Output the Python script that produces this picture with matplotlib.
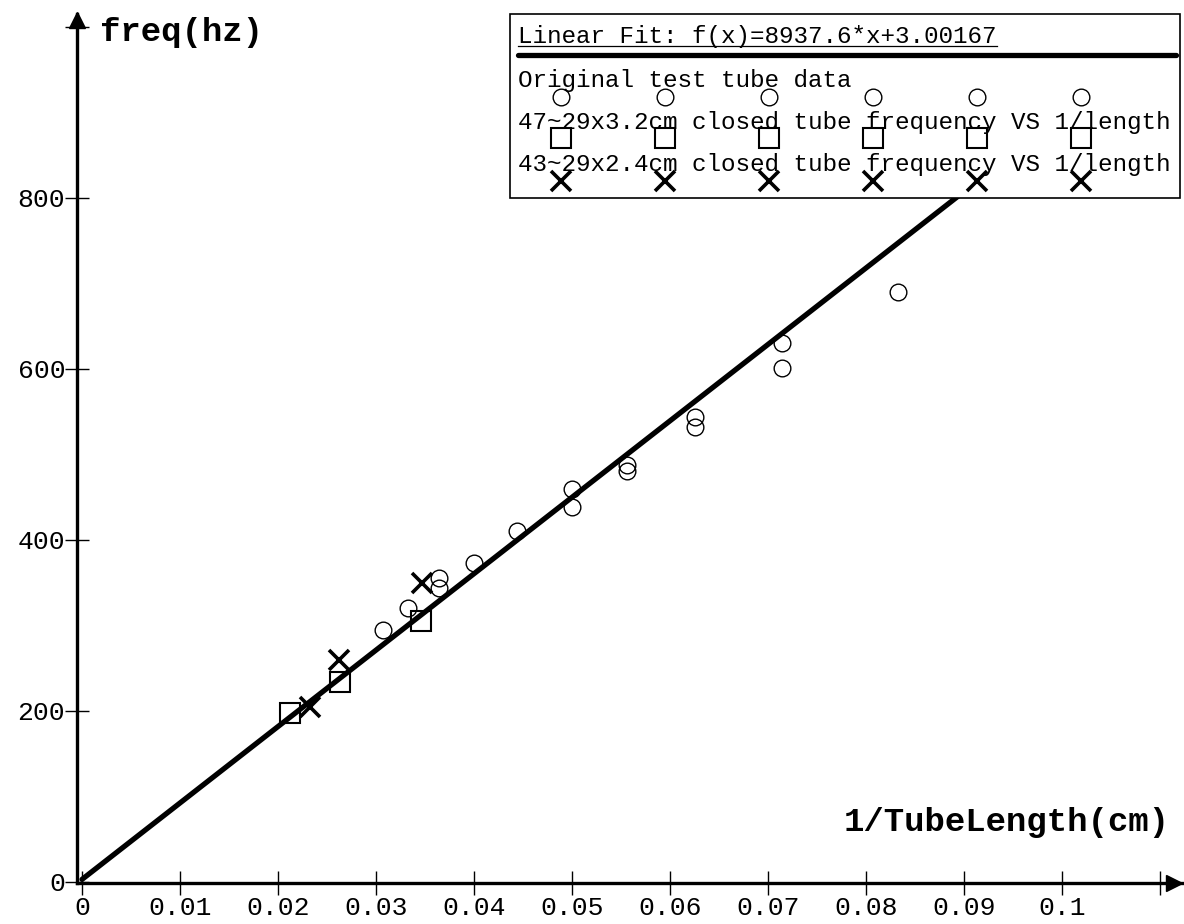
import matplotlib
matplotlib.use("Agg")
import matplotlib.pyplot as plt
from matplotlib.patches import Rectangle
import numpy as np

# Original test tube data: 1/length (1/cm) vs frequency (Hz)
orig_x = [0.0307, 0.0333, 0.0364, 0.0364, 0.0400, 0.0444, 0.0500, 0.0500,
          0.0556, 0.0556, 0.0625, 0.0625, 0.0714, 0.0714, 0.0833]
orig_y = [295, 320, 356, 344, 373, 410, 460, 439,
          488, 481, 544, 532, 630, 601, 690]

# 47~29x3.2cm closed tube
tube47_x = [0.0212, 0.0263, 0.0346]
tube47_y = [198, 234, 305]

# 43~29x2.4cm closed tube
tube43_x = [0.0233, 0.0262, 0.0347]
tube43_y = [205, 260, 350]

# Linear fit coefficients
fit_slope = 8937.6
fit_intercept = 3.00167

x_ticks = [0, 0.01, 0.02, 0.03, 0.04, 0.05, 0.06, 0.07, 0.08, 0.09, 0.1, 0.11]
x_tick_labels = ["0", "0.01", "0.02", "0.03", "0.04", "0.05", "0.06", "0.07",
                 "0.08", "0.09", "0.1", ""]
y_ticks = [0, 200, 400, 600, 800, 1000]
y_tick_labels = ["0", "200", "400", "600", "800", ""]

fit_label = "Linear Fit: f(x)=8937.6*x+3.00167"
legend_labels = [
    "Original test tube data",
    "47~29x3.2cm closed tube frequency VS 1/length",
    "43~29x2.4cm closed tube frequency VS 1/length",
]

MONO = "Liberation Mono"
W, H = 1184, 924
fig = plt.figure(figsize=(W / 100, H / 100), dpi=100)
fig.patch.set_facecolor("white")

# main axes placed in pixel terms
left, right, top, bottom = 77, 1182, 14, 883
ax = fig.add_axes([left / W, (H - bottom) / H, (right - left) / W, (bottom - top) / H])
ax.set_xlim(-0.00051, 0.11224)
ax.set_ylim(-1.2, 1015)
for s in ("top", "right"):
    ax.spines[s].set_visible(False)
for s in ("left", "bottom"):
    ax.spines[s].set_linewidth(2.4)
    ax.spines[s].set_color("black")

ax.set_xticks(x_ticks)
ax.set_xticklabels(x_tick_labels)
ax.set_yticks(y_ticks)
ax.set_yticklabels(y_tick_labels)
ax.tick_params(axis="both", direction="inout", length=17, width=1.0, colors="black",
               labelsize=19)
ax.tick_params(axis="x", pad=1)
ax.tick_params(axis="y", pad=0)
for lab in ax.get_xticklabels() + ax.get_yticklabels():
    lab.set_fontfamily(MONO)

# arrow heads at the ends of the axes (sitting on the spines)
ax.plot([0], [1008], marker="^", markersize=11, color="black",
        transform=ax.get_yaxis_transform(), clip_on=False, zorder=5)
ax.plot([0.1114], [0], marker=">", markersize=11, color="black",
        transform=ax.get_xaxis_transform(), clip_on=False, zorder=5)

# fitted line
fx = np.array([0.0, 0.109])
ax.plot(fx, fit_slope * fx + fit_intercept, color="black", lw=3.8, zorder=2,
        solid_capstyle="round")

# data
ax.plot(orig_x, orig_y, linestyle="none", marker="o", markersize=12,
        markerfacecolor="none", markeredgecolor="black", markeredgewidth=1.0, zorder=3)
ax.plot(tube47_x, tube47_y, linestyle="none", marker="s", markersize=15,
        markerfacecolor="none", markeredgecolor="black", markeredgewidth=1.5, zorder=3)
ax.plot(tube43_x, tube43_y, linestyle="none", marker="x", markersize=15,
        markeredgecolor="black", markeredgewidth=2.6, zorder=3)

# axis titles
fig.text(100 / W, 1 - 32 / H, "freq(hz)", fontfamily=MONO, fontweight="bold",
         fontsize=24.5, ha="left", va="center")
fig.text(1170 / W, 1 - 823 / H, "1/TubeLength(cm)", fontfamily=MONO, fontweight="bold",
         fontsize=24.5, ha="right", va="center")

# legend panel drawn in pixel coordinates on an overlay
ov = fig.add_axes([0, 0, 1, 1], zorder=10)
ov.set_xlim(0, W)
ov.set_ylim(H, 0)
ov.axis("off")
ov.patch.set_alpha(0)

ov.add_patch(Rectangle((510, 14), 670, 184, facecolor="white", edgecolor="black", lw=1.2))
ov.text(518, 37, fit_label, fontfamily=MONO, fontsize=17.5, ha="left", va="center")
ov.plot([518, 997], [46, 46], color="black", lw=0.9)
ov.plot([518, 1176], [55, 55], color="black", lw=3.8, solid_capstyle="round")

marker_x = [561, 665, 769, 873, 977, 1081]
rows = [
    (80, 97, dict(marker="o", markersize=12, markerfacecolor="none",
                  markeredgecolor="black", markeredgewidth=1.0)),
    (122, 138, dict(marker="s", markersize=15, markerfacecolor="none",
                    markeredgecolor="black", markeredgewidth=1.5)),
    (164, 181, dict(marker="x", markersize=15, markeredgecolor="black",
                    markeredgewidth=2.6)),
]
for label, (ty, my, style) in zip(legend_labels, rows):
    ov.text(518, ty, label, fontfamily=MONO, fontsize=17.5, ha="left", va="center")
    ov.plot(marker_x, [my] * len(marker_x), linestyle="none", **style)

fig.savefig("out.png", dpi=100, facecolor="white")
